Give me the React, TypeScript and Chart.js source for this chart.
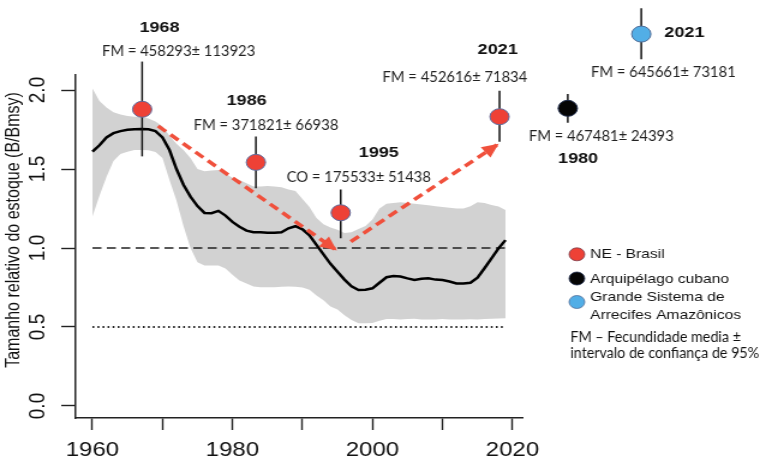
import React, { useEffect, useRef } from "react";
import { Chart, registerables } from "chart.js";

Chart.register(...registerables);

// ---------------- DATA ----------------
const years = [
  1960, 1961, 1962, 1963, 1964, 1965, 1966, 1967, 1968, 1969,
  1970, 1971, 1972, 1973, 1974, 1975, 1976, 1977, 1978, 1979,
  1980, 1981, 1982, 1983, 1984, 1985, 1986, 1987, 1988, 1989,
  1990, 1991, 1992, 1993, 1994, 1995, 1996, 1997, 1998, 1999,
  2000, 2001, 2002, 2003, 2004, 2005, 2006, 2007, 2008, 2009,
  2010, 2011, 2012, 2013, 2014, 2015, 2016, 2017, 2018, 2019,
];
const biomass = [
  1.61, 1.65, 1.70, 1.727, 1.74, 1.748, 1.752, 1.753, 1.752, 1.74,
  1.70, 1.62, 1.50, 1.40, 1.325, 1.265, 1.222, 1.22, 1.235, 1.205,
  1.165, 1.135, 1.11, 1.10, 1.10, 1.097, 1.097, 1.10, 1.125, 1.138,
  1.118, 1.08, 1.02, 0.96, 0.90, 0.85, 0.80, 0.758, 0.734, 0.736,
  0.745, 0.78, 0.815, 0.822, 0.82, 0.808, 0.798, 0.805, 0.808, 0.80,
  0.797, 0.788, 0.776, 0.775, 0.78, 0.812, 0.872, 0.935, 0.998, 1.05,
];
const upperCI = [
  2.01, 1.93, 1.89, 1.86, 1.845, 1.835, 1.83, 1.83, 1.82, 1.80,
  1.77, 1.71, 1.66, 1.62, 1.57, 1.50, 1.485, 1.49, 1.494, 1.47,
  1.445, 1.43, 1.41, 1.39, 1.39, 1.392, 1.39, 1.385, 1.37, 1.36,
  1.31, 1.26, 1.19, 1.15, 1.13, 1.115, 1.095, 1.10, 1.12, 1.14,
  1.18, 1.25, 1.28, 1.285, 1.29, 1.285, 1.28, 1.275, 1.27, 1.265,
  1.26, 1.255, 1.25, 1.25, 1.265, 1.29, 1.285, 1.272, 1.262, 1.24,
];
const lowerCI = [
  1.20, 1.33, 1.45, 1.55, 1.595, 1.61, 1.62, 1.62, 1.618, 1.608,
  1.57, 1.43, 1.30, 1.14, 1.00, 0.91, 0.89, 0.89, 0.89, 0.87,
  0.83, 0.795, 0.775, 0.757, 0.752, 0.751, 0.752, 0.755, 0.756, 0.755,
  0.75, 0.735, 0.70, 0.67, 0.63, 0.61, 0.575, 0.545, 0.523, 0.523,
  0.525, 0.54, 0.55, 0.55, 0.548, 0.55, 0.552, 0.548, 0.547, 0.548,
  0.55, 0.548, 0.547, 0.548, 0.549, 0.548, 0.55, 0.552, 0.553, 0.555,
];

// Fecundity samples (x position in years, B/Bmsy value, error bar ends)
const neX = [1967.1, 1983.35, 1995.46, 2018.15];
const neY = [1.878, 1.542, 1.223, 1.831];
const neLow = [1.58, 1.378, 1.061, 1.673];
const neHigh = [2.18, 1.705, 1.371, 1.996];

const cubaX = [2027.9];
const cubaY = [1.884];
const cubaLow = [1.793];
const cubaHigh = [1.975];

const amazX = [2038.4];
const amazY = [2.354];
const amazLow = [2.194];
const amazHigh = [2.517];

// Trend arrows
const arrowDownX = [1969.38, 1994.65];
const arrowDownY = [1.772, 0.992];
const arrowUpX = [1996.9, 2017.77];
const arrowUpY = [1.04, 1.652];

// Reference lines
const refLineX = [1960, 2019];
const bmsyLevel = 1.0;
const limitLevel = 0.5;

// Axes
const xMin = 1957.6;
const xMax = 2021.4;
const yMin = -0.076;
const yMax = 2.095;
const xTickValues = [1960, 1970, 1980, 1990, 2000, 2010, 2020];
const xTickLabels = ["1960", "", "1980", "", "2000", "", "2020"];
const yTickValues = [0, 0.5, 1, 1.5, 2];
const yTickLabels = ["0.0", "0.5", "1.0", "1.5", "2.0"];
const yTitle = "Tamanho relativo do estoque (B/Bmsy)";

// Annotation texts
const yearLabels = ["1968", "1986", "1995", "2021", "2021", "1980"];
const fmLabels = [
  "FM = 458293± 113923",
  "FM = 371821± 66938",
  "CO = 175533± 51438",
  "FM = 452616± 71834",
  "FM = 645661± 73181",
  "FM = 467481± 24393",
];
const legendLabels = [["NE - Brasil"], ["Arquipélago cubano"], ["Grande Sistema de", "Arrecifes Amazônicos"]];
const noteLines = ["FM – Fecundidade media ±", "intervalo de confiança de 95%"];

// ---------------- LAYOUT / STYLE ----------------
const CANVAS_W = 633;
const CANVAS_H = 463;
const SHOW_W = 760;
const SANS = "'Liberation Sans', Arial, Helvetica, sans-serif";
const NOTE = "Lato, 'Open Sans', sans-serif";
const NOTE_SX = 0.82;
const LEGEND_NOTE_SX = 0.795;
const RED = "#EE4136";
const BLACK = "#050505";
const BLUE = "#52AEE6";
const ARROW = "#F0503C";
const BAND = "#D2D2D2";
const LEG_COLORS = [RED, BLACK, BLUE];
const LEG_BORDERS = ["#7a3a48", "#1d2a4a", "#4D6C98"];

// anchors (data coordinates) of annotation texts
const yearLabelAnchors = [
  [1969.58, 2.394], [1982.02, 1.93], [2000.91, 1.601],
  [2017.89, 2.255], [2044.56, 2.359], [2029.37, 1.563],
];
const fmLabelAnchors = [
  [1972.31, 2.247], [1984.78, 1.778], [1998.04, 1.449],
  [2011.77, 2.084], [2041.55, 2.111], [2032.69, 1.706],
];
// legend pixel layout (canvas px)
const LEG_CX = 480.5;
const LEG_TX = 491.5;
const legCircleY = [254.3, 278.5, 302];
const legTextY = [[254.3], [279.5], [297.5, 315]];
const NOTE_X = 475;
const noteY = [337.5, 353];
const NO_CLIP_AREA = { left: -1e5, top: -1e5, right: 1e5, bottom: 1e5 };

function drawText(ctx: CanvasRenderingContext2D, text: string, x: number, y: number, font: string, align: CanvasTextAlign, sx: number, color: string) {
  ctx.save();
  ctx.translate(x, y);
  ctx.scale(sx, 1);
  ctx.font = font;
  ctx.textAlign = align;
  ctx.textBaseline = "middle";
  ctx.fillStyle = color;
  ctx.fillText(text, 0, 0);
  ctx.restore();
}

const overlayPlugin = {
  id: "overlay",
  afterDatasetsDraw(chart: any) {
    const { ctx, scales } = chart;
    const xs = scales.x;
    const ys = scales.y;

    // markers that sit outside the plotting region (library skips them by default)
    chart.data.datasets.forEach((ds: any, i: number) => {
      if (!ds.drawOutside) return;
      chart.getDatasetMeta(i).data.forEach((pt: any) => pt.draw(ctx, NO_CLIP_AREA));
    });

    // arrow heads
    chart.data.datasets.forEach((ds: any, i: number) => {
      if (!ds.isArrow) return;
      const pts = chart.getDatasetMeta(i).data;
      const a = pts[pts.length - 2];
      const b = pts[pts.length - 1];
      const ang = Math.atan2(b.y - a.y, b.x - a.x);
      ctx.save();
      ctx.translate(b.x, b.y);
      ctx.rotate(ang);
      ctx.beginPath();
      ctx.moveTo(2, 0);
      ctx.lineTo(-12, -6.5);
      ctx.lineTo(-12, 6.5);
      ctx.closePath();
      ctx.fillStyle = ARROW;
      ctx.fill();
      ctx.restore();
    });

    // annotation texts
    yearLabels.forEach((t, i) => {
      const [ax, ay] = yearLabelAnchors[i];
      drawText(ctx, t, xs.getPixelForValue(ax), ys.getPixelForValue(ay), `bold 15px ${SANS}`, "center", 1, "#111");
    });
    fmLabels.forEach((t, i) => {
      const [ax, ay] = fmLabelAnchors[i];
      drawText(ctx, t, xs.getPixelForValue(ax), ys.getPixelForValue(ay), `15px ${NOTE}`, "center", NOTE_SX, "#222");
    });

    // legend
    legendLabels.forEach((lines, i) => {
      ctx.save();
      ctx.beginPath();
      ctx.arc(LEG_CX, legCircleY[i], 6.5, 0, Math.PI * 2);
      ctx.fillStyle = LEG_COLORS[i];
      ctx.fill();
      ctx.lineWidth = 0.8;
      ctx.strokeStyle = LEG_BORDERS[i];
      ctx.stroke();
      ctx.restore();
      lines.forEach((line, j) => {
        drawText(ctx, line, LEG_TX, legTextY[i][j], `13px ${SANS}`, "left", 1, "#111");
      });
    });
    noteLines.forEach((line, j) => {
      drawText(ctx, line, NOTE_X, noteY[j], `15px ${NOTE}`, "left", LEGEND_NOTE_SX, "#111");
    });

    // y axis title
    ctx.save();
    ctx.translate(12, 230);
    ctx.rotate(-Math.PI / 2);
    ctx.font = `16px ${SANS}`;
    ctx.textAlign = "center";
    ctx.textBaseline = "middle";
    ctx.fillStyle = "#111";
    ctx.fillText(yTitle, 0, 0);
    ctx.restore();
  },
};

const toXY = (xsArr: number[], ysArr: number[]) => xsArr.map((x, i) => ({ x, y: ysArr[i] }));

export default function App() {
  const ref = useRef<HTMLCanvasElement | null>(null);

  useEffect(() => {
    if (!ref.current) return;

    const errorBar = (x: number, lo: number, hi: number) => ({
      type: "line",
      data: [{ x, y: lo }, { x, y: hi }],
      borderColor: "#111",
      borderWidth: 1.5,
      pointRadius: 0,
      clip: false,
      order: 1,
    });

    const errorBars = [
      ...neX.map((x, i) => errorBar(x, neLow[i], neHigh[i])),
      ...cubaX.map((x, i) => errorBar(x, cubaLow[i], cubaHigh[i])),
      ...amazX.map((x, i) => errorBar(x, amazLow[i], amazHigh[i])),
    ];

    const datasets: any[] = [
      {
        type: "scatter",
        label: "NE - Brasil",
        data: toXY(neX, neY),
        backgroundColor: RED,
        borderColor: "#5D6B9C",
        borderWidth: 1,
        pointRadius: 8,
        clip: false,
        order: 0,
      },
      {
        type: "scatter",
        label: "Arquipélago cubano",
        drawOutside: true,
        data: toXY(cubaX, cubaY),
        backgroundColor: BLACK,
        borderColor: "#1d2a4a",
        borderWidth: 1,
        pointRadius: 8,
        clip: false,
        order: 0,
      },
      {
        type: "scatter",
        label: "Grande Sistema de Arrecifes Amazônicos",
        drawOutside: true,
        data: toXY(amazX, amazY),
        backgroundColor: BLUE,
        borderColor: "#4D6C98",
        borderWidth: 1,
        pointRadius: 8,
        clip: false,
        order: 0,
      },
      ...errorBars,
      {
        type: "line",
        isArrow: true,
        data: toXY(arrowDownX, arrowDownY),
        borderColor: ARROW,
        borderWidth: 3.5,
        borderDash: [8.5, 5],
        pointRadius: 0,
        clip: false,
        order: 2,
      },
      {
        type: "line",
        isArrow: true,
        data: toXY(arrowUpX, arrowUpY),
        borderColor: ARROW,
        borderWidth: 3.5,
        borderDash: [8.5, 5],
        pointRadius: 0,
        clip: false,
        order: 2,
      },
      {
        type: "line",
        label: "B/Bmsy",
        data: toXY(years, biomass),
        borderColor: "#000",
        borderWidth: 2.5,
        pointRadius: 0,
        tension: 0,
        order: 3,
      },
      {
        type: "line",
        data: refLineX.map((x) => ({ x, y: bmsyLevel })),
        borderColor: "#222",
        borderWidth: 1.3,
        borderDash: [7.5, 4.5],
        pointRadius: 0,
        order: 4,
      },
      {
        type: "line",
        data: refLineX.map((x) => ({ x, y: limitLevel })),
        borderColor: "#222",
        borderWidth: 1.8,
        borderDash: [1.5, 2.7],
        pointRadius: 0,
        order: 4,
      },
      {
        type: "line",
        data: toXY(years, upperCI),
        borderWidth: 0,
        borderColor: BAND,
        pointRadius: 0,
        fill: false,
        order: 10,
      },
      {
        type: "line",
        data: toXY(years, lowerCI),
        borderWidth: 0,
        borderColor: BAND,
        backgroundColor: BAND,
        pointRadius: 0,
        fill: "-1",
        order: 10,
      },
    ];

    Chart.defaults.font.family = SANS;
    Chart.defaults.color = "#111";

    const chart = new Chart(ref.current, {
      type: "line",
      data: { datasets },
      options: {
        animation: false,
        responsive: false,
        devicePixelRatio: 1,
        events: [],
        layout: { padding: { top: 75, right: CANVAS_W - 435, bottom: 0, left: 0 } },
        plugins: {
          legend: { display: false },
          tooltip: { enabled: false },
          title: { display: false },
        },
        scales: {
          x: {
            type: "linear",
            position: "bottom",
            bounds: "data",
            offset: false,
            afterDataLimits: (s: any) => {
              s.min = xMin;
              s.max = xMax;
            },
            afterBuildTicks: (s: any) => {
              s.ticks = xTickValues.map((v) => ({ value: v }));
            },
            afterFit: (s: any) => {
              s.height = 45;
            },
            ticks: {
              autoSkip: false,
              minRotation: 0,
              maxRotation: 0,
              padding: 8,
              color: "#111",
              font: { family: SANS, size: 20 },
              callback: (_v: any, i: number) => xTickLabels[i],
            },
            grid: {
              display: true,
              drawOnChartArea: false,
              drawTicks: true,
              tickLength: 12,
              tickColor: "#222",
              tickWidth: 1.4,
              offset: false,
            },
            border: { display: true, color: "#222", width: 1.5 },
          },
          y: {
            type: "linear",
            min: yMin,
            max: yMax,
            bounds: "data",
            afterBuildTicks: (s: any) => {
              s.ticks = yTickValues.map((v) => ({ value: v }));
            },
            afterFit: (s: any) => {
              s.width = 63;
            },
            ticks: {
              autoSkip: false,
              minRotation: 90,
              maxRotation: 90,
              crossAlign: "center",
              padding: 6,
              color: "#111",
              font: { family: SANS, size: 19 },
              callback: (_v: any, i: number) => yTickLabels[i],
            },
            grid: {
              display: true,
              drawOnChartArea: false,
              drawTicks: true,
              tickLength: 12,
              tickColor: "#222",
              tickWidth: 1.4,
            },
            border: { display: true, color: "#222", width: 1.5 },
          },
        },
      } as any,
      plugins: [overlayPlugin],
    });

    return () => chart.destroy();
  }, []);

  return (
    <div style={{ position: "absolute", left: 0, top: 0, width: SHOW_W, height: CANVAS_H, background: "#fff" }}>
      <canvas
        ref={ref}
        width={CANVAS_W}
        height={CANVAS_H}
        style={{ width: `${SHOW_W}px`, height: `${CANVAS_H}px`, display: "block" }}
      />
    </div>
  );
}
